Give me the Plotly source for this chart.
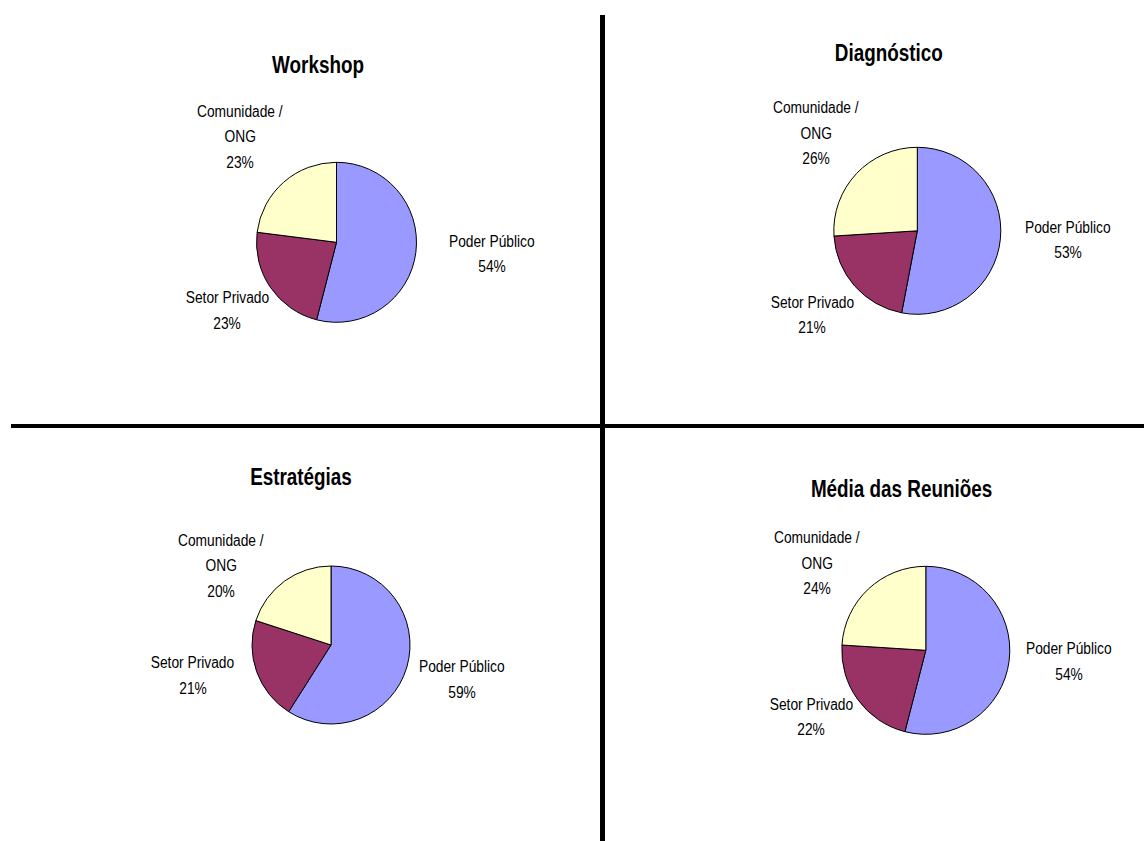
import plotly.graph_objects as go

# ---------------- data ----------------
categories = ["Poder Público", "Setor Privado", "Comunidade / ONG"]
label_lines = [["Poder Público"], ["Setor Privado"], ["Comunidade /", "ONG"]]
chart_titles = ["Workshop", "Diagnóstico", "Estratégias", "Média das Reuniões"]
workshop = [54, 23, 23]
diagnostico = [53, 21, 26]
estrategias = [59, 21, 20]
media = [54, 22, 24]
series = [workshop, diagnostico, estrategias, media]

# ---------------- layout / style ----------------
W, H = 1144, 841
colors = ["#9999FF", "#993366", "#FFFFCC"]
FONT = "Liberation Sans, Arial, sans-serif"
LABEL_SIZE = 16
TITLE_SIZE = 23
LINE_GAP = 25.5

# pie centers (px) and radii (px)
pie_geom = [(336.5, 242.3, 80), (917.3, 230.8, 83.5), (331.0, 645.0, 79), (925.8, 650.3, 84)]
# title centers (px): x, cap-center y
title_pos = [(318.5, 64.7), (888.8, 52.8), (300.5, 476.7), (901.2, 489.0)]
# label anchor (center x, first baseline y) per chart, per category
label_pos = [
    [(491.7, 247.0), (227.3, 303.3), (240.0, 116.7)],
    [(1067.5, 232.7), (812.0, 307.7), (815.8, 113.3)],
    [(461.7, 672.3), (192.5, 668.3), (220.8, 546.0)],
    [(1069.0, 654.3), (811.0, 710.0), (817.0, 543.3)],
]

fig = go.Figure()
annotations = []

for i, vals in enumerate(series):
    cx, cy, r = pie_geom[i]
    fig.add_trace(go.Pie(
        labels=categories,
        values=vals,
        sort=False,
        direction="clockwise",
        rotation=0,
        textinfo="none",
        hoverinfo="label+percent",
        marker=dict(colors=colors, line=dict(color="black", width=1)),
        domain=dict(x=[(cx - r) / W, (cx + r) / W],
                    y=[1 - (cy + r) / H, 1 - (cy - r) / H]),
        showlegend=False,
    ))
    tx, ty = title_pos[i]
    annotations.append(dict(
        text="<b>" + chart_titles[i] + "</b>", x=tx / W, y=1 - ty / H,
        xref="paper", yref="paper", xanchor="center", yanchor="middle",
        showarrow=False, font=dict(family=FONT, size=TITLE_SIZE, color="black")))
    total = sum(vals)
    for j, cat in enumerate(categories):
        lx, ly = label_pos[i][j]
        lines = label_lines[j] + [f"{round(100 * vals[j] / total)}%"]
        for k, line in enumerate(lines):
            base = ly + k * LINE_GAP
            yc = base - 0.35 * LABEL_SIZE
            annotations.append(dict(
                text=line, x=lx / W, y=1 - yc / H,
                xref="paper", yref="paper", xanchor="center", yanchor="middle",
                showarrow=False, font=dict(family=FONT, size=LABEL_SIZE, color="black")))

shapes = [
    dict(type="line", xref="paper", yref="paper",
         x0=602.5 / W, x1=602.5 / W, y0=1 - 15 / H, y1=0,
         line=dict(color="black", width=5)),
    dict(type="line", xref="paper", yref="paper",
         x0=11 / W, x1=1, y0=1 - 426 / H, y1=1 - 426 / H,
         line=dict(color="black", width=4)),
]

fig.update_layout(
    width=W, height=H,
    margin=dict(l=0, r=0, t=0, b=0),
    paper_bgcolor="white", plot_bgcolor="white",
    annotations=annotations, shapes=shapes,
    font=dict(family=FONT, color="black"),
)

# condense the text horizontally, like the narrow lettering of the original
post = """
(function(){
  function squeeze(){
    document.querySelectorAll('text.annotation-text').forEach(function(t){
      if (t.getAttribute('data-sq')) return;
      var fs = parseFloat(t.style.fontSize) || 16;
      var k = fs > 20 ? 0.82 : 0.86;
      var len = t.getComputedTextLength();
      if (len > 0) {
        t.setAttribute('textLength', (len * k).toFixed(2));
        t.setAttribute('lengthAdjust', 'spacingAndGlyphs');
        t.setAttribute('data-sq', '1');
      }
    });
  }
  squeeze();
  setTimeout(squeeze, 50);
})();
"""

fig.write_html("out.html", post_script=post)
